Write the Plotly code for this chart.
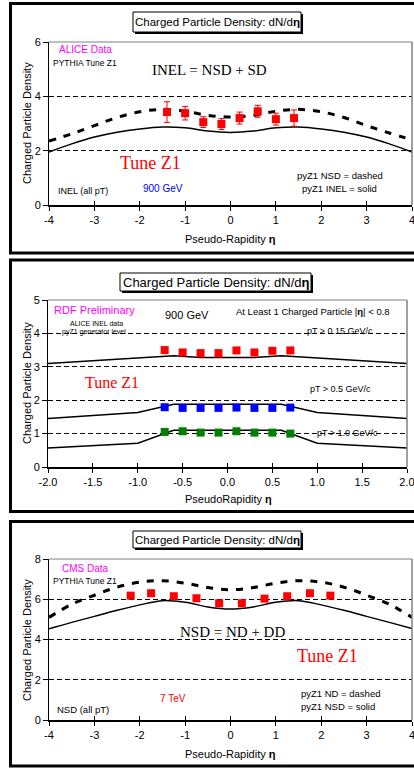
import plotly.graph_objects as go

W, H = 414, 773

# ---------------- data ----------------
# Panel 1: ALICE INEL 900 GeV
p1_data_eta = [-1.4, -1.0, -0.6, -0.2, 0.2, 0.6, 1.0, 1.4]
p1_data_val = [3.42, 3.38, 3.05, 2.98, 3.20, 3.45, 3.16, 3.20]
p1_data_err = [0.38, 0.25, 0.20, 0.20, 0.22, 0.22, 0.22, 0.30]
p1_curve_eta = [-4, -3.5, -3, -2.5, -2, -1.5, -1, -0.5, 0, 0.5, 1, 1.5, 2, 2.5, 3, 3.5, 4]
p1_nsd = [2.35, 2.62, 2.92, 3.22, 3.43, 3.52, 3.45, 3.30, 3.24, 3.30, 3.45, 3.52, 3.43, 3.22, 2.92, 2.65, 2.40]
p1_inel = [1.95, 2.25, 2.50, 2.68, 2.80, 2.87, 2.84, 2.72, 2.67, 2.72, 2.84, 2.87, 2.80, 2.68, 2.50, 2.25, 1.95]
p1_xticks = [-4, -3, -2, -1, 0, 1, 2, 3, 4]
p1_xticktext = ["-4", "-3", "-2", "-1", "0", "1", "2", "3", "4"]
p1_yticks = [0, 2, 4, 6]

# Panel 2: RDF preliminary, at least 1 charged particle |eta|<0.8
p2_data_eta = [-0.7, -0.5, -0.3, -0.1, 0.1, 0.3, 0.5, 0.7]
p2_red = [3.50, 3.43, 3.41, 3.41, 3.49, 3.43, 3.48, 3.49]
p2_blue = [1.79, 1.77, 1.77, 1.77, 1.78, 1.77, 1.77, 1.78]
p2_green = [1.05, 1.07, 1.03, 1.03, 1.07, 1.03, 1.03, 1.00]
p2_curve_eta = [-2.0, -1.0, -0.6, -0.3, 0.0, 0.3, 0.6, 1.0, 2.0]
p2_pt015 = [3.10, 3.27, 3.33, 3.28, 3.27, 3.28, 3.33, 3.27, 3.10]
p2_pt05 = [1.45, 1.63, 1.88, 1.88, 1.88, 1.88, 1.88, 1.63, 1.45]
p2_pt10 = [0.57, 0.71, 1.10, 1.10, 1.10, 1.10, 1.10, 0.71, 0.57]
p2_xticks = [-2.0, -1.5, -1.0, -0.5, 0.0, 0.5, 1.0, 1.5, 2.0]
p2_xticktext = ["-2.0", "-1.5", "-1.0", "-0.5", "0.0", "0.5", "1.0", "1.5", "2.0"]
p2_yticks = [0, 1, 2, 3, 4, 5]

# Panel 3: CMS NSD 7 TeV
p3_data_eta = [-2.2, -1.75, -1.25, -0.75, -0.25, 0.25, 0.75, 1.25, 1.75, 2.2]
p3_cms = [6.18, 6.30, 6.15, 6.05, 5.80, 5.80, 6.03, 6.15, 6.30, 6.18]
p3_curve_eta = [-4, -3.5, -3, -2.5, -2, -1.5, -1, -0.5, 0, 0.5, 1, 1.5, 2, 2.5, 3, 3.5, 4]
p3_nd = [5.10, 5.75, 6.20, 6.60, 6.85, 6.92, 6.80, 6.58, 6.47, 6.58, 6.80, 6.92, 6.85, 6.60, 6.20, 5.75, 5.10]
p3_nsd = [4.53, 4.85, 5.15, 5.45, 5.72, 5.93, 5.85, 5.62, 5.52, 5.62, 5.85, 5.93, 5.72, 5.45, 5.15, 4.85, 4.55]
p3_xticks = [-4, -3, -2, -1, 0, 1, 2, 3, 4]
p3_xticktext = ["-4", "-3", "-2", "-1", "0", "1", "2", "3", "4"]
p3_yticks = [0, 2, 4, 6, 8]

# ---------------- helpers ----------------
def px(x):
    return x / W

def py(y):
    return 1 - y / H

SANS = "Liberation Sans, Arial, sans-serif"
SERIF = "Liberation Serif, Times New Roman, serif"
RED = "#FF0000"
MAG = "#FF00FF"
BLUE = "#0000FF"
GREEN = "#008000"

fig = go.Figure()

# panel geometry (pixel boxes of plot areas)
panels = [
    dict(x0=49, x1=412, y0=42, y1=205, xr=[-4, 4], yr=[0, 6], xt=p1_xticks, xtt=p1_xticktext, yt=p1_yticks),
    dict(x0=48, x1=407, y0=300, y1=467, xr=[-2, 2], yr=[0, 5], xt=p2_xticks, xtt=p2_xticktext, yt=p2_yticks),
    dict(x0=49, x1=412, y0=559, y1=720, xr=[-4, 4], yr=[0, 8], xt=p3_xticks, xtt=p3_xticktext, yt=p3_yticks),
]

layout_axes = {}
for i, p in enumerate(panels, start=1):
    xn = "xaxis" if i == 1 else f"xaxis{i}"
    yn = "yaxis" if i == 1 else f"yaxis{i}"
    ya = "y" if i == 1 else f"y{i}"
    xa = "x" if i == 1 else f"x{i}"
    layout_axes[xn] = dict(
        domain=[px(p["x0"]), px(p["x1"])], range=p["xr"], anchor=ya, automargin=False,
        tickvals=p["xt"], ticktext=p["xtt"], ticks="outside", ticklen=4,
        ticklabeloverflow="allow",
        tickcolor="black", showline=True, linecolor="black", linewidth=1.5,
        showgrid=False, zeroline=False, fixedrange=True,
        tickfont=dict(family=SANS, size=11, color="black"),
    )
    layout_axes[yn] = dict(
        domain=[py(p["y1"]), py(p["y0"])], range=p["yr"], anchor=xa, automargin=False,
        tickvals=p["yt"], ticks="outside", ticklen=5, tickcolor="black",
        ticklabeloverflow="allow",
        showline=True, linecolor="black", linewidth=1,
        showgrid=True, gridcolor="black", gridwidth=1, griddash="5px,3px",
        zeroline=False, fixedrange=True,
        tickfont=dict(family=SANS, size=11, color="black"),
    )
    # overlay axis to get ticks crossing the x axis line
    on = f"xaxis{i + 3}"
    layout_axes[on] = dict(
        overlaying=xa, anchor=ya, range=p["xr"], tickvals=p["xt"], automargin=False,
        ticks="inside", ticklen=4, tickcolor="black", showticklabels=False,
        showline=False, showgrid=False, zeroline=False, fixedrange=True,
    )
    fig.add_trace(go.Scatter(x=[None], y=[None], xaxis=f"x{i + 3}", yaxis=ya,
                             showlegend=False, hoverinfo="skip"))

# ---------------- traces ----------------
# Panel 1
fig.add_trace(go.Scatter(x=p1_curve_eta, y=p1_nsd, mode="lines", xaxis="x", yaxis="y",
                         line=dict(color="black", width=3, dash="7px,8px", shape="spline")))
fig.add_trace(go.Scatter(x=p1_curve_eta, y=p1_inel, mode="lines", xaxis="x", yaxis="y",
                         line=dict(color="black", width=1.5, shape="spline")))
fig.add_trace(go.Scatter(x=p1_data_eta, y=p1_data_val, mode="markers", xaxis="x", yaxis="y",
                         marker=dict(symbol="square", size=8, color=RED),
                         error_y=dict(type="data", array=p1_data_err, color=RED, thickness=1, width=3)))

# Panel 2
for vals in (p2_pt015, p2_pt05, p2_pt10):
    fig.add_trace(go.Scatter(x=p2_curve_eta, y=vals, mode="lines", xaxis="x2", yaxis="y2",
                             line=dict(color="black", width=1.5)))
for vals, col in ((p2_red, RED), (p2_blue, BLUE), (p2_green, GREEN)):
    fig.add_trace(go.Scatter(x=p2_data_eta, y=vals, mode="markers", xaxis="x2", yaxis="y2",
                             marker=dict(symbol="square", size=8, color=col)))

# Panel 3
fig.add_trace(go.Scatter(x=p3_curve_eta, y=p3_nd, mode="lines", xaxis="x3", yaxis="y3",
                         line=dict(color="black", width=3, dash="7px,8px", shape="spline")))
fig.add_trace(go.Scatter(x=p3_curve_eta, y=p3_nsd, mode="lines", xaxis="x3", yaxis="y3",
                         line=dict(color="black", width=1.5, shape="spline")))
fig.add_trace(go.Scatter(x=p3_data_eta, y=p3_cms, mode="markers", xaxis="x3", yaxis="y3",
                         marker=dict(symbol="square", size=8, color=RED)))

# ---------------- shapes ----------------
shapes = []
# outer panel frames
for (t, b) in ((3.5, 253), (260, 511.5), (521.5, 766)):
    shapes.append(dict(type="rect", xref="paper", yref="paper", x0=px(10.5), x1=px(440),
                       y0=py(b), y1=py(t), line=dict(color="black", width=3)))
# gray top/right border of plot areas
for i in (1, 2, 3):
    xd = "x domain" if i == 1 else f"x{i} domain"
    yd = "y domain" if i == 1 else f"y{i} domain"
    shapes.append(dict(type="line", xref=xd, yref=yd, x0=0, x1=1, y0=1, y1=1,
                       line=dict(color="#808080", width=1)))
    shapes.append(dict(type="line", xref=xd, yref=yd, x0=1, x1=1, y0=0, y1=1,
                       line=dict(color="#808080", width=1.5)))
# title boxes with shadow
for (l, t, r, b) in ((133, 12, 301, 32), (120, 273, 311, 291), (133, 531, 301, 548)):
    shapes.append(dict(type="rect", xref="paper", yref="paper", x0=px(l + 2), x1=px(r + 2),
                       y0=py(b + 2), y1=py(t + 2), fillcolor="black", line=dict(width=0)))
    shapes.append(dict(type="rect", xref="paper", yref="paper", x0=px(l), x1=px(r),
                       y0=py(b), y1=py(t), fillcolor="white", line=dict(color="black", width=1)))

# ---------------- annotations ----------------
ann = []

def text(x, y, s, size=10, color="black", family=SANS, xanchor="left", angle=0):
    ann.append(dict(x=px(x), y=py(y), xref="paper", yref="paper", text=s, showarrow=False,
                    xanchor=xanchor, yanchor="middle", textangle=angle,
                    font=dict(family=family, size=size, color=color)))

TITLE = "Charged Particle Density: dN/d<b>η</b>"
text(217, 22, TITLE, 11.5, xanchor="center")
text(215.5, 282, TITLE, 13, xanchor="center")
text(217, 539.5, TITLE, 11.5, xanchor="center")

YT = "Charged Particle Density"
text(27, 123, YT, 11, xanchor="center", angle=-90)
text(27, 383, YT, 11, xanchor="center", angle=-90)
text(27, 640, YT, 11, xanchor="center", angle=-90)

text(230, 239, "Pseudo-Rapidity <b>η</b>", 11, xanchor="center")
text(228, 499, "PseudoRapidity <b>η</b>", 11, xanchor="center")
text(230, 754, "Pseudo-Rapidity <b>η</b>", 11, xanchor="center")

# panel 1
text(57, 50, "ALICE Data", 10, MAG)
text(51, 63, "PYTHIA Tune Z1", 8.5)
text(150, 70, "INEL = NSD + SD", 15, family=SERIF)
text(118, 163, "Tune Z1", 18, RED, SERIF)
text(56, 191, "INEL (all pT)", 9)
text(141, 188, "900 GeV", 10, BLUE)
text(295, 175, "pyZ1 NSD = dashed", 9.5)
text(300, 188, "pyZ1 INEL = solid", 9.5)

# panel 2
text(52, 310, "RDF Preliminary", 11, MAG)
text(68, 323, "ALICE INEL data", 7)
text(60, 332, "pyZ1 generator level", 7)
text(163, 315, "900 GeV", 11)
text(234, 311, "At Least 1 Charged Particle |<b>η</b>| &lt; 0.8", 9.5)
text(305, 331, "pT &gt; 0.15 GeV/c", 9)
text(83, 383, "Tune Z1", 16, RED, SERIF)
text(308, 389, "pT &gt; 0.5 GeV/c", 9)
text(315, 433, "pT &gt; 1.0 GeV/c", 9)

# panel 3
text(60, 568, "CMS Data", 10, MAG)
text(51, 581, "PYTHIA Tune Z1", 8.5)
text(178, 632, "NSD = ND + DD", 15, family=SERIF)
text(295, 656, "Tune Z1", 18, RED, SERIF)
text(158, 698, "7 TeV", 10, RED)
text(55, 709, "NSD (all pT)", 9.5)
text(299, 693, "pyZ1 ND = dashed", 9.5)
text(299, 706, "pyZ1 NSD = solid", 9.5)

fig.update_layout(
    template="none",
    width=W, height=H, autosize=False,
    margin=dict(l=0, r=0, t=0, b=0, pad=0),
    paper_bgcolor="white", plot_bgcolor="white",
    showlegend=False, shapes=shapes, annotations=ann,
    **layout_axes,
)

fig.write_html(
    "out.html",
    config={"displayModeBar": False, "responsive": False},
    post_script="document.body.style.margin='0px';document.body.style.padding='0px';"
                "document.body.style.overflow='hidden';",
)
